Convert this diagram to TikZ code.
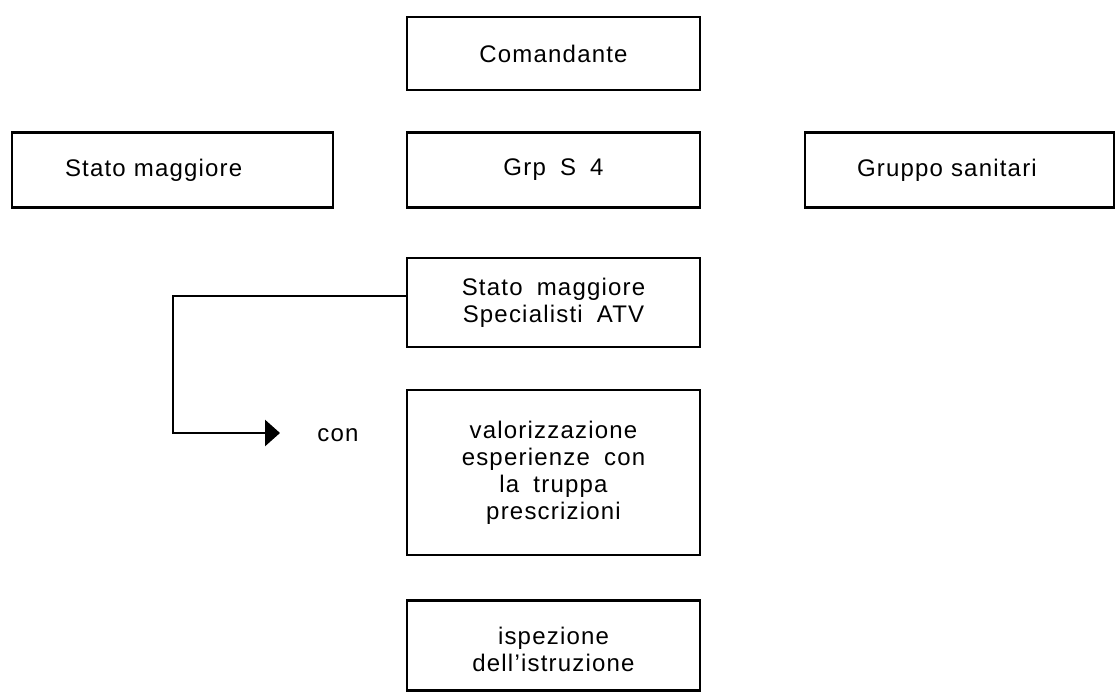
\documentclass[tikz,border=0pt]{standalone}
\usepackage{fontspec}
\setmainfont{Liberation Sans}[LetterSpace=5, WordSpace=1.8]
\usetikzlibrary{arrows.meta}
\begin{document}
\begin{tikzpicture}[x=1pt,y=-1pt,
  box/.style={draw, line width=2.8pt, inner sep=0pt, align=center,
    font=\fontsize{24}{27}\selectfont, minimum width=293pt},
  lbox/.style={draw, line width=2.8pt, inner ysep=0pt, align=left,
    font=\fontsize{24}{27}\selectfont},
  conn/.style={line width=2.8pt}]
\useasboundingbox (0,0) rectangle (1116,693);
\clip (0,0) rectangle (1116,693);
\node[box, minimum height=73pt] (cmd) at (553.5,53.5) {Comandante};
\node[lbox, inner xsep=53pt, text width=215pt, minimum height=74.5pt] (sm) at (172.5,170) {Stato maggiore};
\node[box, minimum height=74.5pt] (grp) at (553.5,170) {Grp S 4};
\node[lbox, inner xsep=52pt, text width=205pt, minimum height=74.5pt] (gs) at (959.5,170) {Gruppo sanitari};
\node[box, minimum height=89pt] (spec) at (553.5,302.5) {Stato maggiore\\Specialisti ATV};
\node[box, minimum height=165pt] (val) at (553.5,472.5) {valorizzazione\\esperienze con\\la truppa\\prescrizioni};
\node[box, minimum height=90.5pt] (isp) at (553.5,645.5) {\rule{0pt}{26pt}ispezione\\dell'istruzione};
\node[inner sep=0pt, font=\fontsize{24}{27}\selectfont] (con) at (338,435) {con};
\coordinate (c1) at (173,296);
\coordinate (c2) at (173,433);
\coordinate (tip) at (280,433);
\draw[conn, -{Triangle[length=15pt,width=26pt]}] ([yshift=6.5pt]spec.west) -- (c1) -- (c2) -- (tip);
\end{tikzpicture}
\end{document}
